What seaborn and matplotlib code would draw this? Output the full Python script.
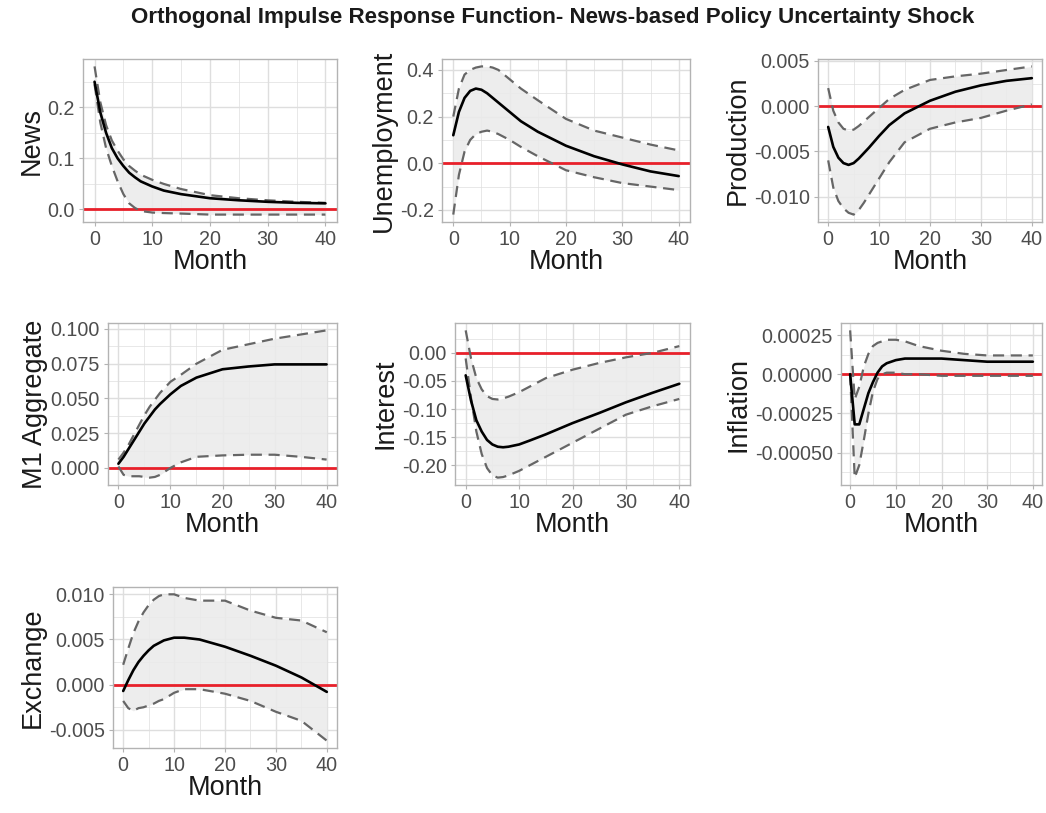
import numpy as np
import pandas as pd
import matplotlib
matplotlib.use("Agg")
import matplotlib.pyplot as plt
from matplotlib.ticker import FixedLocator, FormatStrFormatter
import seaborn as sns

# ---------------- data ----------------
months = [0, 1, 2, 3, 4, 5, 6, 7, 8, 10, 12, 15, 20, 25, 30, 35, 40]

news_irf = [0.25, 0.19, 0.15, 0.12, 0.10, 0.085, 0.072, 0.063, 0.055, 0.045, 0.037, 0.030, 0.022, 0.018, 0.015, 0.013, 0.012]
news_hi  = [0.28, 0.21, 0.165, 0.135, 0.115, 0.098, 0.085, 0.076, 0.068, 0.058, 0.050, 0.040, 0.028, 0.022, 0.018, 0.015, 0.013]
news_lo  = [0.245, 0.17, 0.12, 0.085, 0.055, 0.03, 0.012, 0.003, -0.003, -0.006, -0.007, -0.008, -0.010, -0.010, -0.010, -0.010, -0.010]

unemp_irf = [0.12, 0.22, 0.28, 0.31, 0.32, 0.315, 0.30, 0.28, 0.26, 0.22, 0.18, 0.135, 0.075, 0.03, -0.005, -0.035, -0.055]
unemp_hi  = [0.20, 0.32, 0.38, 0.40, 0.41, 0.415, 0.415, 0.41, 0.40, 0.36, 0.32, 0.27, 0.19, 0.14, 0.11, 0.08, 0.055]
unemp_lo  = [-0.22, -0.05, 0.05, 0.10, 0.125, 0.135, 0.14, 0.135, 0.125, 0.10, 0.07, 0.03, -0.03, -0.06, -0.085, -0.10, -0.115]

prod_irf = [-0.0023, -0.0045, -0.0057, -0.0063, -0.0065, -0.0063, -0.0058, -0.0052, -0.0046, -0.0033, -0.0021, -0.0008, 0.0006, 0.0016, 0.0023, 0.0028, 0.0031]
prod_hi  = [0.0020, -0.0005, -0.0018, -0.0025, -0.0027, -0.0026, -0.0022, -0.0017, -0.0012, -0.0002, 0.0008, 0.0018, 0.0029, 0.0033, 0.0036, 0.0040, 0.0044]
prod_lo  = [-0.0060, -0.0090, -0.0105, -0.0113, -0.0118, -0.0120, -0.0115, -0.0107, -0.0098, -0.0080, -0.0062, -0.0040, -0.0025, -0.0018, -0.0013, -0.0005, 0.0002]

m1_irf = [0.003, 0.008, 0.014, 0.020, 0.026, 0.032, 0.037, 0.042, 0.046, 0.053, 0.059, 0.065, 0.071, 0.073, 0.0745, 0.0745, 0.0745]
m1_hi  = [0.006, 0.011, 0.017, 0.024, 0.031, 0.038, 0.044, 0.049, 0.054, 0.062, 0.067, 0.075, 0.085, 0.089, 0.093, 0.096, 0.099]
m1_lo  = [0.001, -0.005, -0.006, -0.006, -0.006, -0.0065, -0.007, -0.0065, -0.005, 0.000, 0.004, 0.008, 0.009, 0.0095, 0.0095, 0.008, 0.006]

int_irf = [-0.04, -0.085, -0.12, -0.14, -0.155, -0.163, -0.167, -0.168, -0.167, -0.163, -0.156, -0.145, -0.125, -0.107, -0.088, -0.071, -0.055]
int_hi  = [0.04, -0.01, -0.045, -0.065, -0.077, -0.082, -0.083, -0.081, -0.078, -0.070, -0.060, -0.045, -0.030, -0.018, -0.008, 0.000, 0.012]
int_lo  = [-0.01, -0.08, -0.14, -0.18, -0.205, -0.218, -0.222, -0.221, -0.218, -0.210, -0.200, -0.185, -0.160, -0.135, -0.110, -0.095, -0.082]

infl_irf = [0.0, -0.00032, -0.00032, -0.00022, -0.00012, -0.00005, 0.00001, 0.00005, 0.00007, 0.00009, 0.0001, 0.0001, 0.0001, 0.00009, 0.00008, 0.00008, 0.00008]
infl_hi  = [0.00028, -0.00016, -0.00008, 0.00005, 0.00013, 0.00018, 0.0002, 0.00021, 0.00022, 0.00022, 0.00021, 0.00018, 0.00015, 0.00013, 0.00012, 0.00012, 0.00012]
infl_lo  = [0.0, -0.00066, -0.00058, -0.00042, -0.00025, -0.00011, -0.00003, 0.0, 0.00001, 0.00001, 0.0, 0.0, -0.00001, -0.00001, -0.00001, -0.00001, -0.00001]

exch_irf = [-0.0007, 0.0005, 0.0016, 0.0025, 0.0032, 0.0038, 0.0043, 0.0046, 0.0049, 0.0052, 0.0052, 0.0050, 0.0042, 0.0032, 0.0021, 0.0008, -0.0008]
exch_hi  = [0.0022, 0.0040, 0.0057, 0.0070, 0.0080, 0.0088, 0.0094, 0.0098, 0.0100, 0.0100, 0.0096, 0.0093, 0.0093, 0.0082, 0.0074, 0.0071, 0.0058]
exch_lo  = [-0.0018, -0.0026, -0.0029, -0.0026, -0.0025, -0.0023, -0.0021, -0.0018, -0.0016, -0.0009, -0.0005, -0.0005, -0.0010, -0.0018, -0.0030, -0.0040, -0.0062]

variables = ["News", "Unemployment", "Production", "M1 Aggregate", "Interest", "Inflation", "Exchange"]
y_ticks = {
    "News": [0.0, 0.1, 0.2],
    "Unemployment": [-0.2, 0.0, 0.2, 0.4],
    "Production": [-0.010, -0.005, 0.000, 0.005],
    "M1 Aggregate": [0.000, 0.025, 0.050, 0.075, 0.100],
    "Interest": [-0.20, -0.15, -0.10, -0.05, 0.00],
    "Inflation": [-0.00050, -0.00025, 0.00000, 0.00025],
    "Exchange": [-0.005, 0.000, 0.005, 0.010],
}
x_ticks = [0, 10, 20, 30, 40]
title = "Orthogonal Impulse Response Function- News-based Policy Uncertainty Shock"

series = {
    "News": (news_irf, news_lo, news_hi),
    "Unemployment": (unemp_irf, unemp_lo, unemp_hi),
    "Production": (prod_irf, prod_lo, prod_hi),
    "M1 Aggregate": (m1_irf, m1_lo, m1_hi),
    "Interest": (int_irf, int_lo, int_hi),
    "Inflation": (infl_irf, infl_lo, infl_hi),
    "Exchange": (exch_irf, exch_lo, exch_hi),
}
fmts = {"News": "%.1f", "Unemployment": "%.1f", "Production": "%.3f", "M1 Aggregate": "%.3f",
        "Interest": "%.2f", "Inflation": "%.5f", "Exchange": "%.3f"}

# ---------------- style ----------------
sns.set_theme(style="white")
plt.rcParams["font.family"] = ["Liberation Sans", "DejaVu Sans"]
plt.rcParams["axes.unicode_minus"] = False

W, H = 1046, 813
fig = plt.figure(figsize=(W / 100, H / 100), dpi=100)

# panel boxes in pixels: left, right, top, bottom
boxes = {
    "News": (83, 337, 59, 222),
    "Unemployment": (442, 690, 59, 222),
    "Production": (818, 1042, 59, 222),
    "M1 Aggregate": (108, 337, 323, 485),
    "Interest": (455, 690, 323, 485),
    "Inflation": (841, 1042, 323, 485),
    "Exchange": (113, 337, 587, 748),
}

grid_col = "#DEDEDE"
for var in variables:
    l, r, t, b = boxes[var]
    ax = fig.add_axes([l / W, 1 - b / H, (r - l) / W, (b - t) / H])
    irf, lo, hi = series[var]
    df = pd.DataFrame({"Month": months, "irf": irf, "lo": lo, "hi": hi})

    yt = y_ticks[var]
    step = yt[1] - yt[0]
    ax.fill_between(df["Month"], df["lo"], df["hi"], color="#EBEBEB", alpha=0.9, lw=0, zorder=1)
    sns.lineplot(data=df, x="Month", y="hi", ax=ax, color="#666666", lw=1.6,
                 linestyle=(0, (5, 3)), zorder=3)
    sns.lineplot(data=df, x="Month", y="lo", ax=ax, color="#666666", lw=1.6,
                 linestyle=(0, (5, 3)), zorder=3)
    ax.axhline(0, color="#E8202A", lw=2.0, zorder=2)
    sns.lineplot(data=df, x="Month", y="irf", ax=ax, color="black", lw=1.9, zorder=4)

    ymin = min(min(lo), min(irf), 0)
    ymax = max(max(hi), max(irf), 0)
    pad = (ymax - ymin) * 0.05
    ax.set_ylim(ymin - pad, ymax + pad)
    ax.set_xlim(-2, 42)

    ax.xaxis.set_major_locator(FixedLocator(x_ticks))
    ax.xaxis.set_minor_locator(FixedLocator([5, 15, 25, 35]))
    ax.yaxis.set_major_locator(FixedLocator(yt))
    minors = [v + step / 2 for v in [yt[0] - step] + yt]
    ax.yaxis.set_minor_locator(FixedLocator(minors))
    ax.yaxis.set_major_formatter(FormatStrFormatter(fmts[var]))
    ax.grid(True, which="major", color=grid_col, lw=1.0, zorder=0)
    ax.grid(True, which="minor", color=grid_col, lw=0.5, zorder=0)
    ax.set_axisbelow(True)

    for s in ax.spines.values():
        s.set_color("#B3B3B3")
        s.set_linewidth(1.0)
    ax.tick_params(axis="both", which="major", labelsize=14.2, labelcolor="#4D4D4D",
                   color="#B3B3B3", length=3, width=0.8, pad=3, left=True, bottom=True)
    ax.tick_params(axis="both", which="minor", length=0)
    ax.set_xlabel("Month", fontsize=19.5, color="#1A1A1A", labelpad=0)
    ax.set_ylabel(var, fontsize=19.5, color="#1A1A1A", labelpad=2)

fig.text(0.528, 0.992, title, ha="center", va="top", fontsize=16.1, fontweight="bold",
         color="#1A1A1A")

fig.savefig("out.png", dpi=100, facecolor="white")
